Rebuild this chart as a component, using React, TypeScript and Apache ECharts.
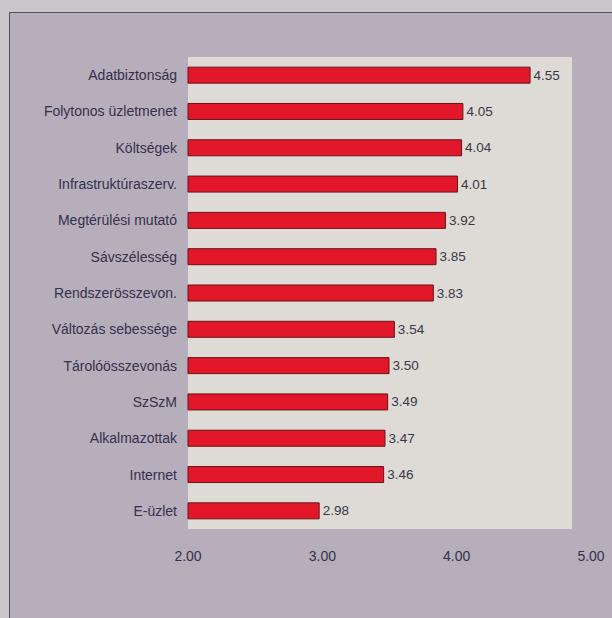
import React, { useEffect, useRef } from "react";
import * as echarts from "echarts";

// Survey factors, ranked by average score (top to bottom)
const categories: string[] = [
  "Adatbiztonság",
  "Folytonos üzletmenet",
  "Költségek",
  "Infrastruktúraszerv.",
  "Megtérülési mutató",
  "Sávszélesség",
  "Rendszerösszevon.",
  "Változás sebessége",
  "Tárolóösszevonás",
  "SzSzM",
  "Alkalmazottak",
  "Internet",
  "E-üzlet",
];

const scores: number[] = [4.55, 4.05, 4.04, 4.01, 3.92, 3.85, 3.83, 3.54, 3.5, 3.49, 3.47, 3.46, 2.98];

const axisMin = 2;
const axisMax = 5;
const axisStep = 1;

const FONT = "'Liberation Sans', Arial, sans-serif";
const TEXT = "#34314c";

export default function App() {
  const ref = useRef<HTMLDivElement>(null);

  useEffect(() => {
    if (!ref.current) return;
    const chart = echarts.init(ref.current, undefined, { renderer: "svg" });
    chart.setOption({
      animation: false,
      backgroundColor: "transparent",
      textStyle: { fontFamily: FONT },
      grid: {
        left: 188,
        top: 57,
        width: 403,
        height: 472,
        show: false,
        containLabel: false,
      },
      // light plot panel behind the bars
      graphic: [
        {
          type: "rect",
          z: -10,
          shape: { x: 188, y: 57, width: 384, height: 472 },
          style: { fill: "#dedad5" },
          silent: true,
        },
      ],
      xAxis: {
        type: "value",
        min: axisMin,
        max: axisMax,
        interval: axisStep,
        axisLine: { show: false },
        axisTick: { show: false },
        splitLine: { show: false },
        axisLabel: {
          margin: 20,
          fontSize: 14,
          color: TEXT,
          fontFamily: FONT,
          formatter: (v: number) => v.toFixed(2),
        },
      },
      yAxis: {
        type: "category",
        data: categories,
        inverse: true,
        axisLine: { show: false },
        axisTick: { show: false },
        splitLine: { show: false },
        axisLabel: {
          margin: 11,
          fontSize: 14,
          color: TEXT,
          fontFamily: FONT,
        },
      },
      series: [
        {
          type: "bar",
          data: scores,
          barWidth: 17,
          itemStyle: {
            color: "#e2182a",
            borderColor: "#6b1118",
            borderWidth: 1,
          },
          label: {
            show: true,
            position: "right",
            distance: 3,
            fontSize: 13.5,
            color: "#3a3848",
            fontFamily: FONT,
            formatter: (p: any) => Number(p.value).toFixed(2),
          },
        },
      ],
    });
    return () => chart.dispose();
  }, []);

  return (
    <div
      style={{
        position: "fixed",
        left: 0,
        top: 0,
        width: 612,
        height: 618,
        background: "#cac5c9",
        overflow: "hidden",
      }}
    >
      <div
        style={{
          position: "absolute",
          left: 9,
          top: 12,
          width: 640,
          height: 640,
          background: "#b7aebb",
          border: "1.5px solid #55505a",
        }}
      />
      <div
        ref={ref}
        style={{ position: "absolute", left: 0, top: 0, width: 612, height: 618 }}
      />
    </div>
  );
}
